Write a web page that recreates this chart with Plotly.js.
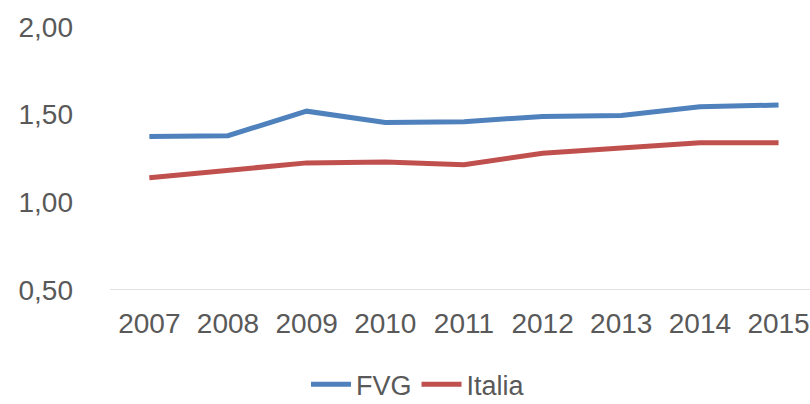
<!DOCTYPE html>
<html>
<head>
<meta charset="utf-8">
<script src="https://cdn.plot.ly/plotly-3.0.1.min.js"></script>
<style>
  html, body { margin: 0; padding: 0; background: #fff; }
  #chart { width: 810px; height: 404px; }
</style>
</head>
<body>
<div id="chart"></div>
<script>
// values
const years = ['2007', '2008', '2009', '2010', '2011', '2012', '2013', '2014', '2015'];
const fvg = [1.375, 1.38, 1.52, 1.455, 1.46, 1.49, 1.495, 1.545, 1.555];
const italia = [1.14, 1.185, 1.225, 1.23, 1.215, 1.28, 1.31, 1.34, 1.34];

const textColor = '#595959';
const font = 'Liberation Sans, Arial, sans-serif';

const traces = [
    {
        x: years,
        y: fvg,
        name: 'FVG',
        type: 'scatter',
        mode: 'lines',
        line: { color: '#4F81BD', width: 5 }
    },
    {
        x: years,
        y: italia,
        name: 'Italia',
        type: 'scatter',
        mode: 'lines',
        line: { color: '#C0504D', width: 5 }
    }
];

Plotly.newPlot('chart', traces, {
    width: 810,
    height: 404,
    margin: { l: 110, r: 0, t: 27, b: 114, autoexpand: false },
    paper_bgcolor: '#fff',
    plot_bgcolor: '#fff',
    separators: ',.',
    font: { family: font, size: 28, color: textColor },
    xaxis: {
        type: 'category',
        range: [-0.5, 8.4],
        showgrid: false,
        zeroline: false,
        showline: false,
        ticks: '',
        automargin: false,
        ticklabelstandoff: 14,
        tickfont: { size: 28, color: textColor }
    },
    yaxis: {
        range: [0.5, 2.0],
        tick0: 0.5,
        dtick: 0.5,
        tickformat: '.2f',
        showgrid: false,
        zeroline: false,
        showline: false,
        ticks: '',
        automargin: false,
        ticklabelstandoff: 36,
        tickfont: { size: 28, color: textColor }
    },
    shapes: [
        {
            type: 'line',
            xref: 'paper', x0: 0, x1: 1,
            yref: 'y', y0: 0.5, y1: 0.5,
            line: { color: '#D9D9D9', width: 1.5 },
            layer: 'below'
        }
    ],
    showlegend: true,
    legend: {
        orientation: 'h',
        x: 0.44,
        xanchor: 'center',
        y: -0.36,
        yanchor: 'middle',
        font: { size: 27, color: textColor },
        itemwidth: 40,
        tracegroupgap: 0
    }
}, { staticPlot: true });
</script>
</body>
</html>
